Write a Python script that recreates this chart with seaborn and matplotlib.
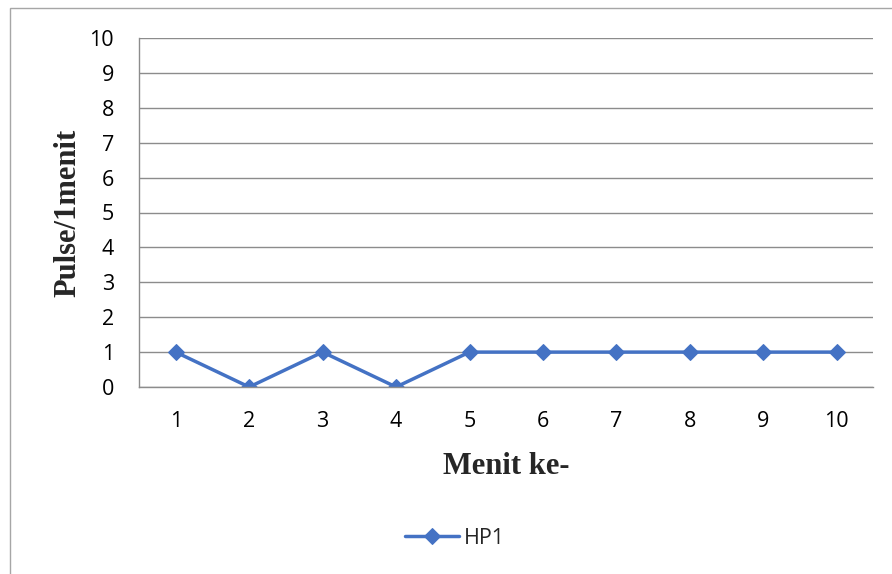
import matplotlib
matplotlib.use("Agg")
import matplotlib.pyplot as plt
import matplotlib.patches as mpatches
import seaborn as sns
import pandas as pd
import numpy as np

minutes = [1, 2, 3, 4, 5, 6, 7, 8, 9, 10]
hp1 = [1, 0, 1, 0, 1, 1, 1, 1, 1, 1]
series_name = "HP1"
y_ticks = [0, 1, 2, 3, 4, 5, 6, 7, 8, 9, 10]

sns.set_theme(style="white")
plt.rcParams['font.family'] = ['Open Sans', 'DejaVu Sans']

df = pd.DataFrame({"Menit": minutes, "Pulse": hp1, "Series": series_name})

fig = plt.figure(figsize=(8.92, 5.74), dpi=100)
ax = fig.add_axes([139 / 892, 1 - 387 / 574, (873.5 - 139) / 892, (387 - 38) / 574])

line_color = "#4472C4"
grid_color = "#8C8C8C"
tick_fs = 15.5

sns.lineplot(data=df, x="Menit", y="Pulse", hue="Series", palette=[line_color],
             marker="D", markersize=8.5, markeredgecolor=line_color, linewidth=2.5,
             ax=ax, legend=True)

ax.set_xlim(0.5, 10.5)
ax.set_ylim(0, 10)
ax.set_yticks(y_ticks)
ax.set_yticklabels([str(v) for v in y_ticks])
ax.set_xticks(minutes)
ax.set_xticklabels([str(v) for v in minutes])
ax.set_xticks(np.arange(0.5, 11, 1), minor=True)
ax.tick_params(axis="x", which="major", length=0, pad=17, labelsize=tick_fs, colors="black")
ax.tick_params(axis="x", which="minor", length=6, width=1, color=grid_color, direction="out")
ax.tick_params(axis="y", which="major", length=6, width=1, color=grid_color, direction="out",
               pad=12, labelsize=tick_fs, labelcolor="black")
ax.yaxis.grid(True, color=grid_color, linewidth=1)
ax.xaxis.grid(False)
for s in ["top", "right"]:
    ax.spines[s].set_visible(False)
for s in ["left", "bottom"]:
    ax.spines[s].set_color(grid_color)
    ax.spines[s].set_linewidth(1)
ax.set_axisbelow(True)

ax.set_xlabel("Menit ke-", fontsize=22, fontweight="bold", family="Liberation Serif", labelpad=15)
ax.set_ylabel("Pulse/1menit", fontsize=22, fontweight="bold", family="Liberation Serif", labelpad=5)

h, l = ax.get_legend_handles_labels()
ax.legend(h, l, loc="center", bbox_to_anchor=(455 / 892, 1 - 538 / 574),
          bbox_transform=fig.transFigure, frameon=False, fontsize=tick_fs,
          handlelength=2.5, handletextpad=0.2)

border = mpatches.Rectangle((10 / 892, -0.05), 1.1, 1.05 - 8 / 574, transform=fig.transFigure,
                            fill=False, edgecolor="#A6A6A6", linewidth=1, clip_on=False)
fig.patches.append(border)

fig.savefig("out.png", dpi=100)
